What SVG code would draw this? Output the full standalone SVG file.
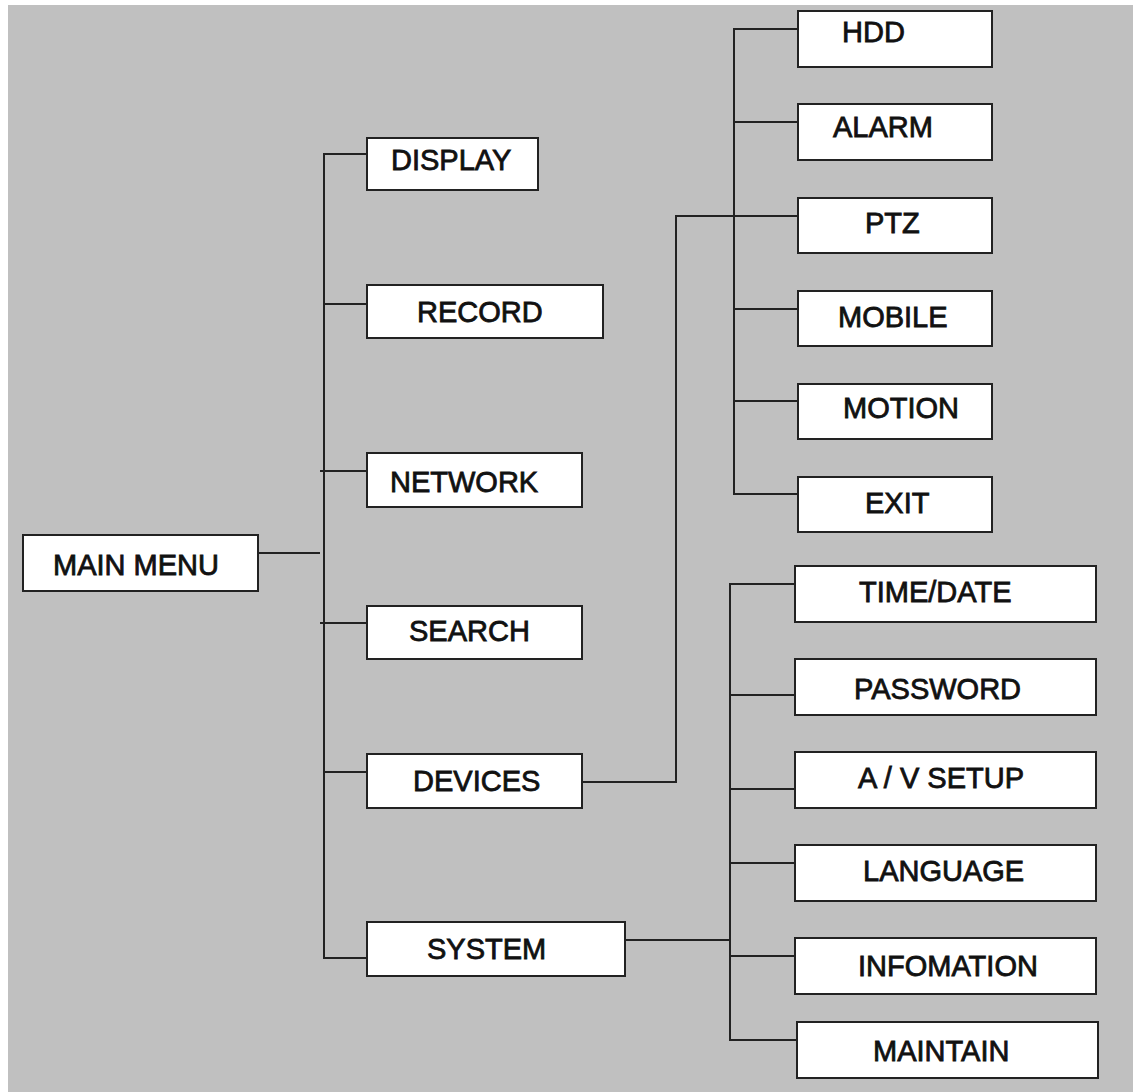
<svg xmlns="http://www.w3.org/2000/svg" width="1133" height="1092" viewBox="0 0 1133 1092">
<style>
.box{fill:#fff;stroke:#222;stroke-width:2}
.lbl{font-family:"Liberation Sans",Arial,sans-serif;font-size:29px;fill:#111;stroke:#111;stroke-width:0.8}
.con{fill:none;stroke:#222;stroke-width:2}
</style>
<rect x="0" y="0" width="1133" height="1092" fill="#fff"/>
<rect x="8" y="5" width="1125" height="1087" fill="#c0c0c0"/>
<g id="connectors">
<path class="con" d="M258 553H320"/>
<path class="con" d="M367 154H324V958H367"/>
<path class="con" d="M324 304H367M320 471H367M320 623H367M324 772H367"/>
<path class="con" d="M582 782H676V216H798"/>
<path class="con" d="M798 29H734V494H798M734 122H798M734 309H798M734 401H798"/>
<path class="con" d="M625 940H730"/>
<path class="con" d="M795 584H730V1040H797M729 695H795M730 789H795M730 863H795M730 956H795"/>
</g>
<g id="main-menu"><rect class="box" x="23" y="535" width="235" height="56"/><text class="lbl" x="53" y="575">MAIN MENU</text></g>
<g id="display"><rect class="box" x="367" y="138" width="171" height="52"/><text class="lbl" x="391" y="170">DISPLAY</text></g>
<g id="record"><rect class="box" x="367" y="285" width="236" height="53"/><text class="lbl" x="417" y="322">RECORD</text></g>
<g id="network"><rect class="box" x="367" y="453" width="215" height="54"/><text class="lbl" x="390" y="492">NETWORK</text></g>
<g id="search"><rect class="box" x="367" y="606" width="215" height="53"/><text class="lbl" x="409" y="641">SEARCH</text></g>
<g id="devices"><rect class="box" x="367" y="754" width="215" height="54"/><text class="lbl" x="413" y="791">DEVICES</text></g>
<g id="system"><rect class="box" x="367" y="922" width="258" height="54"/><text class="lbl" x="427" y="959">SYSTEM</text></g>
<g id="hdd"><rect class="box" x="798" y="11" width="194" height="56"/><text class="lbl" x="842" y="42">HDD</text></g>
<g id="alarm"><rect class="box" x="798" y="104" width="194" height="56"/><text class="lbl" x="833" y="137">ALARM</text></g>
<g id="ptz"><rect class="box" x="798" y="198" width="194" height="55"/><text class="lbl" x="865" y="233">PTZ</text></g>
<g id="mobile"><rect class="box" x="798" y="291" width="194" height="55"/><text class="lbl" x="838" y="327">MOBILE</text></g>
<g id="motion"><rect class="box" x="798" y="384" width="194" height="55"/><text class="lbl" x="843" y="418">MOTION</text></g>
<g id="exit"><rect class="box" x="798" y="477" width="194" height="55"/><text class="lbl" x="865" y="513">EXIT</text></g>
<g id="time-date"><rect class="box" x="795" y="566" width="301" height="56"/><text class="lbl" x="859" y="602">TIME/DATE</text></g>
<g id="password"><rect class="box" x="795" y="659" width="301" height="56"/><text class="lbl" x="854" y="699">PASSWORD</text></g>
<g id="av-setup"><rect class="box" x="795" y="752" width="301" height="56"/><text class="lbl" x="858" y="788">A / V SETUP</text></g>
<g id="language"><rect class="box" x="795" y="845" width="301" height="56"/><text class="lbl" x="863" y="881">LANGUAGE</text></g>
<g id="infomation"><rect class="box" x="795" y="938" width="301" height="56"/><text class="lbl" x="858" y="976">INFOMATION</text></g>
<g id="maintain"><rect class="box" x="797" y="1022" width="301" height="56"/><text class="lbl" x="873" y="1061">MAINTAIN</text></g>
</svg>
